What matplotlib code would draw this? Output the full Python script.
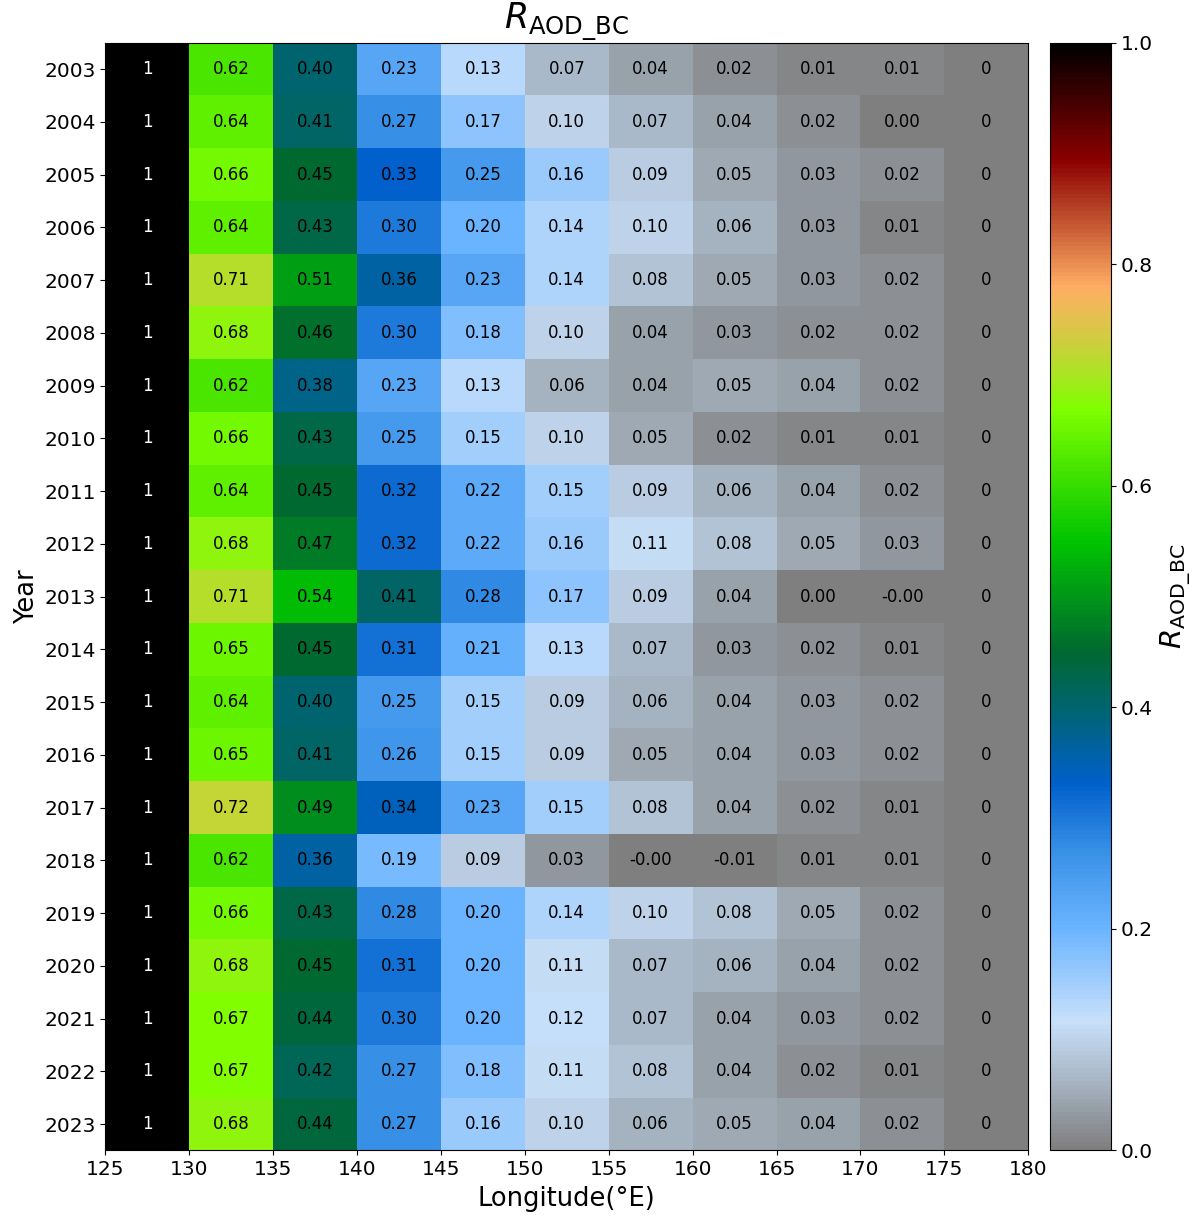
import numpy as np
import matplotlib
matplotlib.use("Agg")
import matplotlib.pyplot as plt
from matplotlib.colors import LinearSegmentedColormap

years = list(range(2003, 2024))
lon_edges = [125, 130, 135, 140, 145, 150, 155, 160, 165, 170, 175, 180]

# Ratio per 5-degree longitude band (125-130 is the reference band = 1, 175-180 = 0)
r_2003 = [1, 0.62, 0.40, 0.23, 0.13, 0.07, 0.04, 0.02, 0.01, 0.01, 0]
r_2004 = [1, 0.64, 0.41, 0.27, 0.17, 0.10, 0.07, 0.04, 0.02, 0.00, 0]
r_2005 = [1, 0.66, 0.45, 0.33, 0.25, 0.16, 0.09, 0.05, 0.03, 0.02, 0]
r_2006 = [1, 0.64, 0.43, 0.30, 0.20, 0.14, 0.10, 0.06, 0.03, 0.01, 0]
r_2007 = [1, 0.71, 0.51, 0.36, 0.23, 0.14, 0.08, 0.05, 0.03, 0.02, 0]
r_2008 = [1, 0.68, 0.46, 0.30, 0.18, 0.10, 0.04, 0.03, 0.02, 0.02, 0]
r_2009 = [1, 0.62, 0.38, 0.23, 0.13, 0.06, 0.04, 0.05, 0.04, 0.02, 0]
r_2010 = [1, 0.66, 0.43, 0.25, 0.15, 0.10, 0.05, 0.02, 0.01, 0.01, 0]
r_2011 = [1, 0.64, 0.45, 0.32, 0.22, 0.15, 0.09, 0.06, 0.04, 0.02, 0]
r_2012 = [1, 0.68, 0.47, 0.32, 0.22, 0.16, 0.11, 0.08, 0.05, 0.03, 0]
r_2013 = [1, 0.71, 0.54, 0.41, 0.28, 0.17, 0.09, 0.04, 0.00, -0.0, 0]
r_2014 = [1, 0.65, 0.45, 0.31, 0.21, 0.13, 0.07, 0.03, 0.02, 0.01, 0]
r_2015 = [1, 0.64, 0.40, 0.25, 0.15, 0.09, 0.06, 0.04, 0.03, 0.02, 0]
r_2016 = [1, 0.65, 0.41, 0.26, 0.15, 0.09, 0.05, 0.04, 0.03, 0.02, 0]
r_2017 = [1, 0.72, 0.49, 0.34, 0.23, 0.15, 0.08, 0.04, 0.02, 0.01, 0]
r_2018 = [1, 0.62, 0.36, 0.19, 0.09, 0.03, -0.0, -0.01, 0.01, 0.01, 0]
r_2019 = [1, 0.66, 0.43, 0.28, 0.20, 0.14, 0.10, 0.08, 0.05, 0.02, 0]
r_2020 = [1, 0.68, 0.45, 0.31, 0.20, 0.11, 0.07, 0.06, 0.04, 0.02, 0]
r_2021 = [1, 0.67, 0.44, 0.30, 0.20, 0.12, 0.07, 0.04, 0.03, 0.02, 0]
r_2022 = [1, 0.67, 0.42, 0.27, 0.18, 0.11, 0.08, 0.04, 0.02, 0.01, 0]
r_2023 = [1, 0.68, 0.44, 0.27, 0.16, 0.10, 0.06, 0.05, 0.04, 0.02, 0]

data = np.array([r_2003, r_2004, r_2005, r_2006, r_2007, r_2008, r_2009,
                 r_2010, r_2011, r_2012, r_2013, r_2014, r_2015, r_2016,
                 r_2017, r_2018, r_2019, r_2020, r_2021, r_2022, r_2023])

cmap = LinearSegmentedColormap.from_list("ratio", [
    (0.00, "#7f7f7f"),
    (0.06, "#a6b4c2"),
    (0.115, "#c8e0fa"),
    (0.20, "#6ab4ff"),
    (0.27, "#3890e6"),
    (0.33, "#0060cc"),
    (0.40, "#00646e"),
    (0.45, "#006830"),
    (0.55, "#00c400"),
    (0.67, "#80ff00"),
    (0.725, "#c8d23a"),
    (0.78, "#ffae64"),
    (0.895, "#8b0000"),
    (1.00, "#000000"),
], N=256)

fig = plt.figure(figsize=(11.97, 12.2), dpi=100)
ax = fig.add_axes([0.088, 0.057, 0.771, 0.908])
cax = fig.add_axes([0.877, 0.057, 0.051, 0.908])

y_edges = np.arange(years[0] - 0.5, years[-1] + 1.5, 1)
mesh = ax.pcolormesh(lon_edges, y_edges, data, cmap=cmap, vmin=0, vmax=1)
ax.set_ylim(y_edges[-1], y_edges[0])
ax.set_xlim(lon_edges[0], lon_edges[-1])
ax.set_xticks(lon_edges)
ax.set_yticks(years)
ax.tick_params(labelsize=14.5)

centers = [(a + b) / 2 for a, b in zip(lon_edges[:-1], lon_edges[1:])]
ncol = len(centers)
for i, yr in enumerate(years):
    for j, xc in enumerate(centers):
        v = data[i, j]
        if j == 0 or j == ncol - 1:
            txt = f"{v:g}"
        else:
            txt = f"{v:.2f}"
        color = "white" if v > 0.85 else "black"
        ax.text(xc, yr, txt, ha="center", va="center", fontsize=12, color=color)

ax.set_xlabel("Longitude(°E)", fontsize=18.5, labelpad=5)
ax.set_ylabel("Year", fontsize=18.5, labelpad=3)
ax.set_title(r"$R_{\mathrm{AOD\_BC}}$", fontsize=25, pad=1)

cb = fig.colorbar(mesh, cax=cax)
cb.set_ticks([0.0, 0.2, 0.4, 0.6, 0.8, 1.0])
cb.ax.tick_params(labelsize=14.5)
cb.set_label(r"$R_{\mathrm{AOD\_BC}}$", fontsize=21)

fig.savefig("out.png", dpi=100)
